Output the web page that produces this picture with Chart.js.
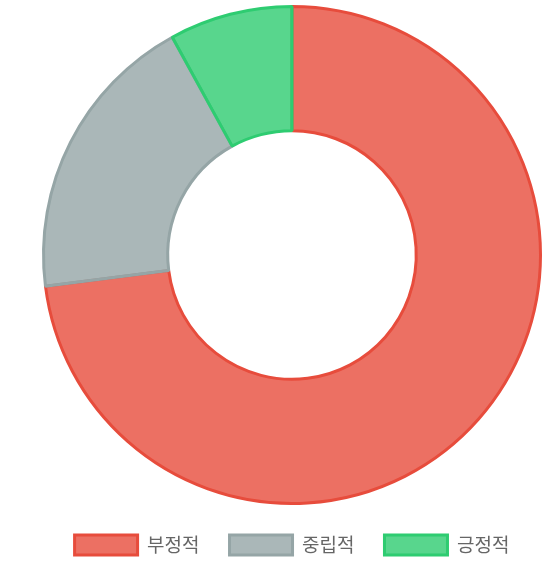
<!doctype html>
<html lang="ko">
  <head>
    <meta charset="utf-8">
    <title>감성 분석</title>
    <script src="https://cdn.jsdelivr.net/npm/chart.js"></script>
    <style>
      html, body { margin: 0; padding: 0; overflow: hidden; background: #fff; }
      #wrap { width: 551px; height: 567px; }
    </style>
  </head>
  <body>
    <div id="wrap">
      <canvas id="sentimentChart" width="551" height="567"></canvas>
    </div>

    <script>
  // data (percent)
  const labels = ['부정적', '중립적', '긍정적'];
  const values = [73, 19, 8];
  const fillColors = ['rgba(231, 76, 60, 0.8)', 'rgba(149, 165, 166, 0.8)', 'rgba(46, 204, 113, 0.8)'];
  const lineColors = ['#e74c3c', '#95a5a6', '#2ecc71'];

  const ctx = document.getElementById('sentimentChart').getContext('2d');

  const chart = new Chart(ctx, {
    type: 'doughnut',
    data: {
      labels: labels,
      datasets: [{
        data: values,
        backgroundColor: fillColors,
        borderColor: lineColors,
        borderWidth: 3
      }]
    },
    options: {
      responsive: false,
      animation: false,
      cutout: '50%',
      layout: {
        padding: { left: 33, top: 5, right: 0, bottom: 2 }
      },
      plugins: {
        legend: {
          position: 'bottom',
          labels: {
            boxWidth: 63,
            boxHeight: 20,
            padding: 30,
            color: '#666',
            font: { family: "'Noto Sans CJK KR', 'Noto Sans', sans-serif", size: 19 }
          }
        },
        tooltip: { enabled: false }
      }
    }
  });
    </script>
  </body>
</html>
